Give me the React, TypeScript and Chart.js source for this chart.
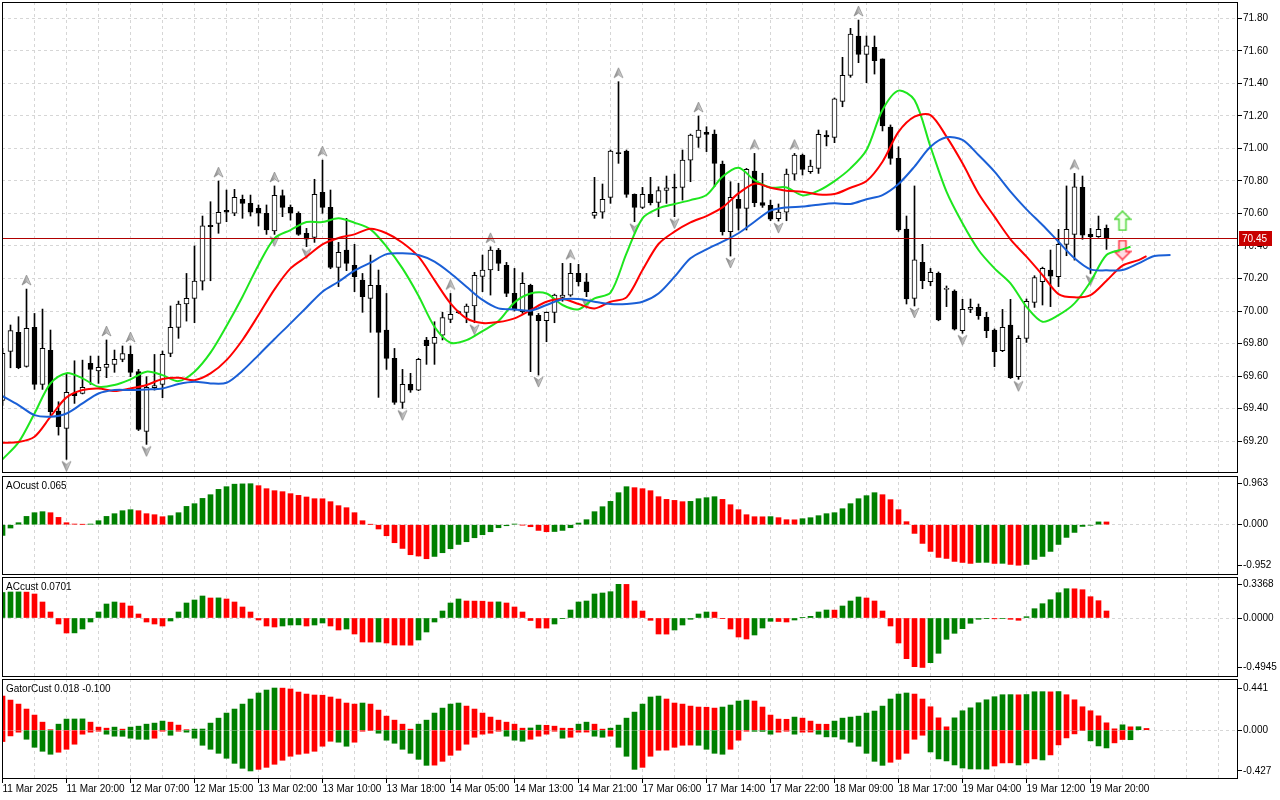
import { useEffect, useRef } from 'react'
import { Chart, registerables } from 'chart.js'

Chart.register(...registerables)

// time labels, one every 8 bars
const xLabels = [
  '11 Mar 2025', '11 Mar 20:00', '12 Mar 07:00', '12 Mar 15:00', '13 Mar 02:00', '13 Mar 10:00',
  '13 Mar 18:00', '14 Mar 05:00', '14 Mar 13:00', '14 Mar 21:00', '17 Mar 06:00', '17 Mar 14:00',
  '17 Mar 22:00', '18 Mar 09:00', '18 Mar 17:00', '19 Mar 04:00', '19 Mar 12:00', '19 Mar 20:00',
]

const priceTicks = [69.2, 69.4, 69.6, 69.8, 70.0, 70.2, 70.4, 70.6, 70.8, 71.0, 71.2, 71.4, 71.6, 71.8]

const opens = [
  69.45, 69.752, 69.869, 69.66, 69.899, 69.549, 69.758, 69.385, 69.278, 69.494,
  69.494, 69.678, 69.631, 69.653, 69.672, 69.703, 69.733, 69.627, 69.26, 69.528,
  69.549, 69.739, 69.899, 70.043, 70.078, 70.184, 70.527, 70.539, 70.619, 70.601,
  70.687, 70.662, 70.631, 70.601, 70.492, 70.709, 70.637, 70.601, 70.478, 70.453,
  70.73, 70.637, 70.268, 70.375, 70.281, 70.19, 70.078, 70.158, 69.883, 69.709,
  69.438, 69.549, 69.514, 69.822, 69.801, 69.852, 69.949, 69.992, 69.992, 70.031,
  70.213, 70.252, 70.375, 70.281, 70.108, 69.996, 70.158, 69.973, 69.94, 69.992,
  70.084, 70.098, 70.231, 70.18, 70.588, 70.607, 70.699, 70.97, 70.984, 70.717,
  70.637, 70.717, 70.668, 70.742, 70.758, 70.76, 70.928, 71.068, 71.099, 71.088,
  70.904, 70.488, 70.687, 70.631, 70.861, 70.666, 70.65, 70.568, 70.607, 70.842,
  70.959, 70.857, 70.877, 71.082, 71.068, 71.289, 71.449, 71.691, 71.578, 71.621,
  71.55, 71.131, 70.939, 70.504, 70.078, 70.299, 70.18, 70.231, 70.133, 70.123,
  69.879, 70.01, 70.022, 69.961, 69.883, 69.756, 69.914, 69.596, 69.832, 70.053,
  70.18, 70.252, 70.211, 70.41, 70.471, 70.76, 70.471, 70.457, 70.508,
]
const highs = [
  69.77, 69.914, 69.965, 70.135, 69.985, 70.012, 69.883, 69.442, 69.617, 69.694,
  69.698, 69.723, 69.723, 69.822, 69.76, 69.785, 69.785, 69.641, 69.596, 69.733,
  69.754, 70.031, 70.061, 70.231, 70.4, 70.584, 70.672, 70.799, 70.744, 70.748,
  70.713, 70.713, 70.652, 70.652, 70.769, 70.744, 70.652, 70.61, 70.508, 70.81,
  70.928, 70.744, 70.422, 70.57, 70.41, 70.231, 70.344, 70.252, 70.108, 69.77,
  69.641, 69.617, 69.709, 69.838, 69.934, 69.992, 70.108, 70.0, 70.043, 70.238,
  70.344, 70.395, 70.385, 70.299, 70.262, 70.236, 70.165, 69.985, 69.995, 70.104,
  70.293, 70.293, 70.287, 70.231, 70.822, 70.781, 70.99, 71.41, 70.99, 70.72,
  70.76, 70.822, 70.764, 70.83, 70.842, 70.99, 71.088, 71.199, 71.133, 71.113,
  70.922, 70.795, 70.785, 70.877, 70.969, 70.847, 70.682, 70.658, 70.873, 70.969,
  70.965, 70.928, 71.113, 71.109, 71.31, 71.56, 71.738, 71.789, 71.691, 71.691,
  71.55, 71.144, 71.01, 70.584, 70.769, 70.41, 70.262, 70.24, 70.154, 70.13,
  70.072, 70.074, 70.043, 69.992, 69.89, 70.01, 70.072, 69.848, 70.074, 70.217,
  70.27, 70.375, 70.502, 70.769, 70.846, 70.83, 70.508, 70.584, 70.529,
]
const lows = [
  69.42, 69.651, 69.645, 69.655, 69.518, 69.518, 69.35, 69.237, 69.088, 69.432,
  69.49, 69.549, 69.555, 69.59, 69.623, 69.688, 69.596, 69.265, 69.18, 69.514,
  69.467, 69.719, 69.832, 69.938, 69.928, 70.129, 70.186, 70.478, 70.549, 70.586,
  70.57, 70.584, 70.523, 70.471, 70.471, 70.58, 70.559, 70.465, 70.396, 70.422,
  70.601, 70.26, 70.15, 70.248, 70.119, 69.992, 69.869, 69.469, 69.641, 69.426,
  69.401, 69.5, 69.51, 69.672, 69.672, 69.822, 69.928, 69.985, 69.928, 69.928,
  70.119, 70.098, 70.248, 70.088, 70.0, 69.985, 69.627, 69.606, 69.811, 69.928,
  70.06, 70.09, 70.154, 70.088, 70.57, 70.57, 70.662, 70.908, 70.699, 70.549,
  70.63, 70.652, 70.58, 70.662, 70.58, 70.682, 70.795, 71.006, 70.98, 70.764,
  70.467, 70.338, 70.498, 70.498, 70.641, 70.637, 70.555, 70.553, 70.555, 70.805,
  70.836, 70.846, 70.846, 71.015, 71.035, 71.256, 71.437, 71.527, 71.404, 71.457,
  71.107, 70.902, 70.49, 70.043, 70.031, 70.137, 70.156, 69.94, 70.027, 69.883,
  69.863, 69.99, 69.949, 69.836, 69.658, 69.75, 69.585, 69.58, 69.807, 70.022,
  70.037, 70.027, 70.15, 70.34, 70.313, 70.441, 70.231, 70.453, 70.379,
]
const closes = [
  69.74, 69.879, 69.651, 69.893, 69.549, 69.77, 69.381, 69.289, 69.5, 69.479,
  69.53, 69.641, 69.653, 69.672, 69.703, 69.739, 69.623, 69.272, 69.53, 69.541,
  69.733, 69.899, 70.043, 70.078, 70.184, 70.523, 70.519, 70.607, 70.607, 70.699,
  70.662, 70.607, 70.601, 70.498, 70.711, 70.637, 70.601, 70.471, 70.441, 70.717,
  70.637, 70.268, 70.361, 70.293, 70.211, 70.088, 70.158, 69.869, 69.709, 69.438,
  69.549, 69.514, 69.703, 69.787, 69.838, 69.959, 69.979, 69.99, 70.031, 70.219,
  70.252, 70.375, 70.293, 70.108, 70.006, 70.17, 69.973, 69.94, 69.992, 70.098,
  70.098, 70.231, 70.18, 70.119, 70.607, 70.687, 70.984, 70.968, 70.717, 70.637,
  70.717, 70.666, 70.74, 70.758, 70.756, 70.928, 71.082, 71.113, 71.086, 70.908,
  70.488, 70.699, 70.631, 70.871, 70.666, 70.65, 70.564, 70.609, 70.842, 70.959,
  70.871, 70.891, 71.086, 71.07, 71.304, 71.449, 71.703, 71.578, 71.63, 71.539,
  71.138, 70.939, 70.498, 70.074, 70.314, 70.186, 70.238, 69.945, 70.133, 69.889,
  70.01, 70.022, 69.971, 69.879, 69.75, 69.899, 69.59, 69.832, 70.059, 70.205,
  70.262, 70.215, 70.41, 70.502, 70.764, 70.467, 70.457, 70.502, 70.45,
]

// alligator lines, read every second bar (last point is the line's end bar)
const jaw = [
  69.477, 69.422, 69.36, 69.35, 69.37, 69.432, 69.493, 69.514, 69.514, 69.518,
  69.524, 69.551, 69.565, 69.555, 69.559, 69.633, 69.729, 69.828, 69.924, 70.022,
  70.119, 70.18, 70.248, 70.297, 70.35, 70.355, 70.344, 70.303, 70.232, 70.149,
  70.068, 70.016, 70.01, 70.002, 70.037, 70.072, 70.074, 70.057, 70.043, 70.043,
  70.057, 70.108, 70.211, 70.324, 70.379, 70.426, 70.478, 70.549, 70.617, 70.637,
  70.642, 70.654, 70.662, 70.658, 70.687, 70.713, 70.781, 70.888, 71.01, 71.068,
  71.052, 70.959, 70.857, 70.734, 70.625, 70.529, 70.426, 70.324, 70.256, 70.25,
  70.252, 70.293, 70.338, 70.344,
]
const teeth = [
  69.19, 69.194, 69.227, 69.35, 69.469, 69.514, 69.524, 69.508, 69.524, 69.545,
  69.582, 69.59, 69.575, 69.616, 69.698, 69.822, 69.975, 70.133, 70.262, 70.334,
  70.41, 70.449, 70.471, 70.506, 70.478, 70.42, 70.334, 70.19, 70.047, 69.955,
  69.926, 69.932, 69.955, 70.006, 70.057, 70.074, 70.043, 70.016, 70.057, 70.084,
  70.252, 70.412, 70.488, 70.545, 70.584, 70.637, 70.723, 70.783, 70.758, 70.74,
  70.734, 70.717, 70.719, 70.758, 70.799, 70.918, 71.101, 71.195, 71.205, 71.072,
  70.908, 70.723, 70.58, 70.441, 70.334, 70.221, 70.104, 70.084, 70.098, 70.186,
  70.279, 70.313, 70.338,
]
const lips = [
  69.088, 69.192, 69.37, 69.555, 69.618, 69.586, 69.534, 69.545, 69.58, 69.627,
  69.606, 69.569, 69.627, 69.744, 69.908, 70.088, 70.283, 70.447, 70.498, 70.547,
  70.547, 70.57, 70.543, 70.502, 70.396, 70.262, 70.094, 69.903, 69.805, 69.821,
  69.877, 69.938, 70.053, 70.108, 70.108, 70.037, 70.01, 70.078, 70.113, 70.354,
  70.57, 70.631, 70.658, 70.682, 70.713, 70.826, 70.881, 70.805, 70.76, 70.76,
  70.711, 70.74, 70.799, 70.877, 70.99, 71.236, 71.355, 71.297, 71.01, 70.734,
  70.539, 70.375, 70.262, 70.17, 70.026, 69.934, 69.975, 70.047, 70.18, 70.344,
  70.379, 70.395,
]
const jawEnd = 146
const teethEnd = 143
const lipsEnd = 141

const fractalUp = [3, 13, 16, 27, 34, 40, 56, 61, 71, 77, 87, 94, 99, 107, 134]
const fractalDown = [8, 18, 34, 38, 50, 59, 67, 73, 79, 84, 91, 97, 114, 120, 127, 136]

const signalBars = [140, 140]
const signalPrices = [70.555, 70.375]

const ao = [
  -0.251, -0.078, 0.047, 0.195, 0.282, 0.306, 0.282, 0.172, 0.047, 0.016,
  0.007, 0.016, 0.094, 0.195, 0.259, 0.329, 0.353, 0.329, 0.259, 0.235,
  0.188, 0.212, 0.282, 0.43, 0.494, 0.618, 0.705, 0.83, 0.893, 0.952,
  0.959, 0.963, 0.917, 0.846, 0.799, 0.776, 0.729, 0.689, 0.651, 0.611,
  0.609, 0.541, 0.447, 0.4, 0.282, 0.094, 0.007, -0.101, -0.259, -0.423,
  -0.557, -0.705, -0.736, -0.799, -0.745, -0.658, -0.564, -0.463, -0.4, -0.306,
  -0.235, -0.165, -0.071, -0.024, 0.016, -0.007, -0.047, -0.134, -0.165, -0.16,
  -0.134, -0.071, 0.04, 0.118, 0.306, 0.423, 0.548, 0.752, 0.893, 0.87,
  0.846, 0.799, 0.658, 0.595, 0.571, 0.541, 0.548, 0.611, 0.635, 0.658,
  0.595, 0.47, 0.353, 0.235, 0.188, 0.186, 0.19, 0.165, 0.118, 0.115,
  0.141, 0.165, 0.212, 0.259, 0.282, 0.376, 0.494, 0.611, 0.682, 0.752,
  0.705, 0.588, 0.353, 0.071, -0.204, -0.439, -0.627, -0.768, -0.792, -0.862,
  -0.886, -0.909, -0.886, -0.884, -0.909, -0.907, -0.933, -0.952, -0.933, -0.815,
  -0.745, -0.627, -0.463, -0.298, -0.181, -0.04, -0.012, 0.066, 0.065,
]
const aoTicks = [-0.952, 0, 0.963]

const ac = [
  0.255, 0.26, 0.261, 0.259, 0.24, 0.16, 0.06, -0.06, -0.15, -0.149,
  -0.11, -0.04, 0.06, 0.14, 0.16, 0.15, 0.12, 0.04, -0.04, -0.06,
  -0.08, -0.03, 0.06, 0.15, 0.18, 0.22, 0.2, 0.201, 0.19, 0.16,
  0.11, 0.06, -0.02, -0.08, -0.09, -0.08, -0.07, -0.069, -0.08, -0.07,
  -0.05, -0.08, -0.12, -0.11, -0.16, -0.24, -0.241, -0.24, -0.25, -0.27,
  -0.271, -0.272, -0.22, -0.14, -0.04, 0.07, 0.15, 0.19, 0.17, 0.169,
  0.168, 0.16, 0.161, 0.15, 0.11, 0.06, -0.025, -0.1, -0.101, -0.06,
  -0.003, 0.08, 0.16, 0.17, 0.24, 0.25, 0.263, 0.3368, 0.336, 0.17,
  0.07, -0.023, -0.16, -0.161, -0.12, -0.07, -0.013, 0.04, 0.06, 0.059,
  -0.003, -0.11, -0.19, -0.21, -0.17, -0.1, -0.033, -0.035, -0.04, -0.02,
  0.003, 0.017, 0.06, 0.08, 0.079, 0.12, 0.17, 0.21, 0.2, 0.17,
  0.07, -0.08, -0.25, -0.407, -0.487, -0.4945, -0.447, -0.353, -0.213, -0.153,
  -0.107, -0.053, -0.013, -0.007, -0.008, -0.006, -0.013, -0.023, 0.013, 0.093,
  0.143, 0.183, 0.253, 0.293, 0.292, 0.283, 0.213, 0.173, 0.0701,
]
const acTicks = [-0.4945, 0, 0.3368]

const gatorUp = [
  0.357, 0.315, 0.273, 0.221, 0.158, 0.084, 0.005, 0.063, 0.116, 0.117,
  0.118, 0.084, 0.032, 0.021, 0.032, 0.011, 0.032, 0.042, 0.063, 0.074,
  0.095, 0.084, 0.053, 0.005, 0.011, 0.012, 0.074, 0.126, 0.179, 0.221,
  0.273, 0.326, 0.389, 0.42, 0.441, 0.44, 0.431, 0.399, 0.378, 0.368,
  0.366, 0.347, 0.326, 0.284, 0.273, 0.284, 0.273, 0.21, 0.147, 0.105,
  0.063, 0.011, 0.063, 0.105, 0.179, 0.231, 0.273, 0.284, 0.252, 0.221,
  0.179, 0.137, 0.105, 0.084, 0.063, 0.021, 0.023, 0.053, 0.051, 0.042,
  0.021, 0.02, 0.063, 0.084, 0.063, 0.011, 0.021, 0.053, 0.126, 0.189,
  0.273, 0.347, 0.357, 0.326, 0.284, 0.273, 0.252, 0.242, 0.24, 0.231,
  0.242, 0.263, 0.305, 0.315, 0.305, 0.242, 0.158, 0.116, 0.114, 0.137,
  0.126, 0.095, 0.063, 0.062, 0.095, 0.126, 0.137, 0.147, 0.179, 0.2,
  0.252, 0.326, 0.378, 0.389, 0.378, 0.326, 0.245, 0.129, 0.035, 0.129,
  0.203, 0.234, 0.287, 0.318, 0.35, 0.371, 0.372, 0.37, 0.373, 0.402,
  0.403, 0.401, 0.404, 0.371, 0.318, 0.245, 0.203, 0.15, 0.077, 0.014,
  0.056, 0.035, 0.036, 0.018,
]
const gatorDown = [
  -0.119, -0.06, -0.021, -0.095, -0.179, -0.221, -0.252, -0.231, -0.2, -0.147,
  -0.042, -0.021, -0.011, -0.042, -0.063, -0.064, -0.084, -0.095, -0.096, -0.084,
  -0.011, -0.053, -0.011, -0.021, -0.084, -0.158, -0.2, -0.242, -0.294, -0.347,
  -0.399, -0.427, -0.41, -0.389, -0.357, -0.315, -0.273, -0.252, -0.242, -0.221,
  -0.168, -0.116, -0.126, -0.168, -0.126, -0.011, -0.005, -0.032, -0.105, -0.137,
  -0.2, -0.242, -0.305, -0.368, -0.366, -0.326, -0.263, -0.21, -0.147, -0.074,
  -0.042, -0.032, -0.011, -0.063, -0.105, -0.116, -0.095, -0.063, -0.042, -0.011,
  -0.084, -0.074, -0.021, -0.02, -0.063, -0.074, -0.063, -0.179, -0.273, -0.41,
  -0.389, -0.273, -0.21, -0.209, -0.179, -0.158, -0.156, -0.158, -0.2, -0.242,
  -0.252, -0.2, -0.105, -0.011, -0.012, -0.013, -0.042, -0.021, -0.011, -0.042,
  -0.021, -0.02, -0.042, -0.07, -0.071, -0.095, -0.126, -0.168, -0.242, -0.326,
  -0.368, -0.336, -0.305, -0.242, -0.095, -0.053, -0.228, -0.301, -0.322, -0.364,
  -0.396, -0.406, -0.407, -0.408, -0.375, -0.343, -0.342, -0.364, -0.343, -0.301,
  -0.312, -0.259, -0.154, -0.081, -0.039, -0.005, -0.112, -0.165, -0.186, -0.133,
  -0.098, -0.1,
]
const gatorTicks = [-0.427, 0, 0.441]

const FONT = "'Liberation Sans', Arial, sans-serif"
const GRID = '#d6d6d6'
const GREEN = '#008000'
const RED = '#ff0000'
const X_MIN = -0.0625
const X_MAX = X_MIN + 1236 / 8
const gridBars = Array.from({ length: 39 }, (_, i) => i * 4)

const frame = {
  id: 'frame',
  afterDraw(chart: any) {
    const { ctx, chartArea: a } = chart
    ctx.save()
    ctx.strokeStyle = '#000'
    ctx.lineWidth = 1
    ctx.strokeRect(a.left + 0.5, a.top + 0.5, a.right - a.left - 1, a.bottom - a.top - 1)
    ctx.restore()
  },
}

const paneText = {
  id: 'paneText',
  afterDraw(chart: any, _args: any, opts: any) {
    if (!opts || !opts.text) return
    const { ctx, chartArea } = chart
    ctx.save()
    ctx.font = `10px ${FONT}`
    ctx.fillStyle = '#000'
    ctx.textBaseline = 'middle'
    ctx.fillText(opts.text, chartArea.left + 4, chartArea.top + 10)
    ctx.restore()
  },
}

const priceLine = {
  id: 'priceLine',
  afterDatasetsDraw(chart: any, _args: any, opts: any) {
    const { ctx, chartArea: a } = chart
    const y = Math.round(chart.scales.y.getPixelForValue(opts.value)) + 0.5
    ctx.save()
    ctx.strokeStyle = '#b00000'
    ctx.lineWidth = 1
    ctx.beginPath()
    ctx.moveTo(a.left, y)
    ctx.lineTo(a.right, y)
    ctx.stroke()
    ctx.restore()
  },
  afterDraw(chart: any, _args: any, opts: any) {
    const { ctx, chartArea: a } = chart
    const y = Math.round(chart.scales.y.getPixelForValue(opts.value))
    ctx.save()
    ctx.fillStyle = '#c80000'
    ctx.fillRect(a.right + 1, y - 7, 33, 15)
    ctx.fillStyle = '#fff'
    ctx.font = `10px ${FONT}`
    ctx.textBaseline = 'middle'
    ctx.fillText(opts.value.toFixed(2), a.right + 4, y + 1)
    ctx.restore()
  },
}

function fractalImage(up: boolean) {
  const c = document.createElement('canvas')
  c.width = 11
  c.height = 30
  const g = c.getContext('2d') as CanvasRenderingContext2D
  if (!up) {
    g.translate(0, 28)
    g.scale(1, -1)
  }
  g.beginPath()
  g.moveTo(5.5, 1)
  g.lineTo(10, 11)
  g.lineTo(5.5, 8)
  g.lineTo(1, 11)
  g.closePath()
  const grad = g.createLinearGradient(1, 0, 10, 0)
  grad.addColorStop(0, '#7a7a7a')
  grad.addColorStop(0.5, '#b4b4b4')
  grad.addColorStop(1, '#ececec')
  g.fillStyle = grad
  g.fill()
  g.strokeStyle = '#8e8e8e'
  g.lineWidth = 0.8
  g.stroke()
  return c
}

function signalImage(up: boolean) {
  const c = document.createElement('canvas')
  c.width = 18
  c.height = 21
  const g = c.getContext('2d') as CanvasRenderingContext2D
  if (!up) {
    g.translate(0, 21)
    g.scale(1, -1)
  }
  g.beginPath()
  g.moveTo(9, 1)
  g.lineTo(17, 9)
  g.lineTo(12.5, 9)
  g.lineTo(12.5, 20)
  g.lineTo(5.5, 20)
  g.lineTo(5.5, 9)
  g.lineTo(1, 9)
  g.closePath()
  g.fillStyle = up ? '#f6fff2' : '#ffdce4'
  g.fill()
  g.lineWidth = 1.5
  g.strokeStyle = up ? '#4fd83a' : '#ff3040'
  g.stroke()
  return c
}

function xScale(showLabels: boolean) {
  return {
    type: 'linear',
    min: X_MIN,
    max: X_MAX,
    offset: false,
    afterBuildTicks: (s: any) => {
      s.ticks = gridBars.map((v) => ({ value: v }))
    },
    afterFit: (s: any) => {
      s.height = showLabels ? 21 : 0
      s.paddingLeft = 0
      s.paddingRight = 0
    },
    grid: {
      offset: false,
      color: GRID,
      drawTicks: showLabels,
      tickLength: 4,
      tickColor: (c: any) =>
        c.tick && c.tick.value % 8 === 0 && c.tick.value / 8 < xLabels.length ? '#000' : 'rgba(0,0,0,0)',
    },
    border: { display: false, dash: [3, 3] },
    ticks: {
      display: showLabels,
      autoSkip: false,
      maxRotation: 0,
      minRotation: 0,
      align: 'start',
      padding: 0,
      color: '#000',
      font: { family: FONT, size: 10 },
      callback: (v: any) => (v % 8 === 0 ? xLabels[v / 8] ?? '' : ''),
    },
  }
}

function yScale(min: number, max: number, ticks: number[], digits: number, zeroOnly: boolean) {
  return {
    position: 'right',
    min,
    max,
    afterBuildTicks: (s: any) => {
      s.ticks = ticks.map((v) => ({ value: v }))
    },
    afterFit: (s: any) => {
      s.width = 42
      s.paddingTop = 0
      s.paddingBottom = 0
    },
    grid: {
      color: zeroOnly ? (c: any) => (c.tick && c.tick.value === 0 ? GRID : 'rgba(0,0,0,0)') : GRID,
      tickColor: '#000',
      tickLength: 4,
    },
    border: { display: false, dash: [3, 3] },
    ticks: {
      color: '#000',
      padding: 1,
      font: { family: FONT, size: 10 },
      callback: (v: any) => Number(v).toFixed(digits),
    },
  }
}

function baseOptions(padTop: number, padBottom: number, showX: boolean, y: any, text?: string) {
  return {
    animation: false,
    responsive: true,
    maintainAspectRatio: false,
    events: [],
    layout: { autoPadding: false, padding: { left: 2, right: 0, top: padTop, bottom: padBottom } },
    plugins: {
      legend: { display: false },
      tooltip: { enabled: false },
      paneText: { text },
    },
    scales: { x: xScale(showX), y },
  }
}

function riseColors(values: number[], first: string) {
  return values.map((v, i) => (i === 0 ? first : v > values[i - 1] ? GREEN : RED))
}

function lineSet(values: number[], end: number, color: string) {
  return {
    type: 'line',
    data: values.map((v, i) => ({ x: Math.min(i * 2, end), y: v })),
    borderColor: color,
    borderWidth: 2,
    pointRadius: 0,
    tension: 0.3,
    order: 0,
  }
}

function buildMain() {
  const upImg = fractalImage(true)
  const downImg = fractalImage(false)
  return {
    type: 'bar',
    data: {
      datasets: [
        lineSet(jaw, jawEnd, '#1a5fd6'),
        lineSet(teeth, teethEnd, '#ff0000'),
        lineSet(lips, lipsEnd, '#1ee61e'),
        {
          type: 'line',
          data: fractalUp.map((b) => ({ x: b, y: highs[b] })),
          showLine: false,
          pointStyle: upImg,
          pointRadius: 6,
          order: 0,
        },
        {
          type: 'line',
          data: fractalDown.map((b) => ({ x: b, y: lows[b] })),
          showLine: false,
          pointStyle: downImg,
          pointRadius: 6,
          order: 0,
        },
        {
          type: 'line',
          data: signalBars.map((b, i) => ({ x: b, y: signalPrices[i] })),
          showLine: false,
          pointStyle: [signalImage(true), signalImage(false)],
          pointRadius: 8,
          order: 0,
        },
        {
          type: 'bar',
          data: closes.map((c, i) => ({ x: i, y: [opens[i], c] })),
          backgroundColor: closes.map((c, i) => (c >= opens[i] ? '#ffffff' : '#000000')),
          borderColor: '#000',
          borderWidth: 1,
          borderSkipped: false,
          barThickness: 5,
          minBarLength: 1,
          grouped: false,
          order: 1,
        },
        {
          type: 'bar',
          data: highs.map((h, i) => ({ x: i, y: [lows[i], h] })),
          backgroundColor: '#000',
          borderWidth: 0,
          barThickness: 1,
          grouped: false,
          order: 2,
        },
      ],
    },
    options: {
      ...baseOptions(2, 2, false, yScale(69.004, 71.9, priceTicks, 2, false)),
      plugins: {
        legend: { display: false },
        tooltip: { enabled: false },
        priceLine: { value: closes[closes.length - 1] },
      },
    },
    plugins: [priceLine, frame],
  }
}

function histSet(values: number[], colors: string[]) {
  return {
    type: 'bar',
    data: values.map((v, i) => ({ x: i, y: v })),
    backgroundColor: colors,
    borderWidth: 0,
    barThickness: 5,
    grouped: false,
  }
}

function buildAO() {
  return {
    type: 'bar',
    data: { datasets: [histSet(ao, riseColors(ao, GREEN))] },
    options: baseOptions(1, 1, false, yScale(-1.181, 1.144, aoTicks, 3, true), `AOcust ${ao[ao.length - 1].toFixed(3)}`),
    plugins: [frame, paneText],
  }
}

function buildAC() {
  return {
    type: 'bar',
    data: { datasets: [histSet(ac, riseColors(ac, GREEN))] },
    options: baseOptions(1, 1, false, yScale(-0.59, 0.41, acTicks, 4, true), `ACcust ${ac[ac.length - 1].toFixed(4)}`),
    plugins: [frame, paneText],
  }
}

function buildGator() {
  const downAbs = gatorDown.map((v) => Math.abs(v))
  const text = `GatorCust ${gatorUp[gatorUp.length - 1].toFixed(3)} ${gatorDown[gatorDown.length - 1].toFixed(3)}`
  return {
    type: 'bar',
    data: {
      datasets: [
        histSet(gatorUp, riseColors(gatorUp, RED)),
        histSet(gatorDown, riseColors(downAbs, RED)),
      ],
    },
    options: baseOptions(1, 0, true, yScale(-0.511, 0.5355, gatorTicks, 3, true), text),
    plugins: [frame, paneText],
  }
}

function Pane({ top, height, build }: { top: number; height: number; build: () => any }) {
  const canvasRef = useRef<HTMLCanvasElement>(null)

  useEffect(() => {
    if (!canvasRef.current) return
    const chart = new Chart(canvasRef.current, build())
    return () => { chart.destroy() }
  }, [build])

  return (
    <div style={{ position: 'absolute', left: 0, top, width: 1280, height }}>
      <canvas ref={canvasRef} />
    </div>
  )
}

export default function App() {
  return (
    <div style={{ position: 'absolute', left: 0, top: 0, width: 1280, height: 800, background: '#fff', overflow: 'hidden' }}>
      <Pane top={0} height={475} build={buildMain} />
      <Pane top={475} height={101} build={buildAO} />
      <Pane top={576} height={102} build={buildAC} />
      <Pane top={678} height={122} build={buildGator} />
    </div>
  )
}
